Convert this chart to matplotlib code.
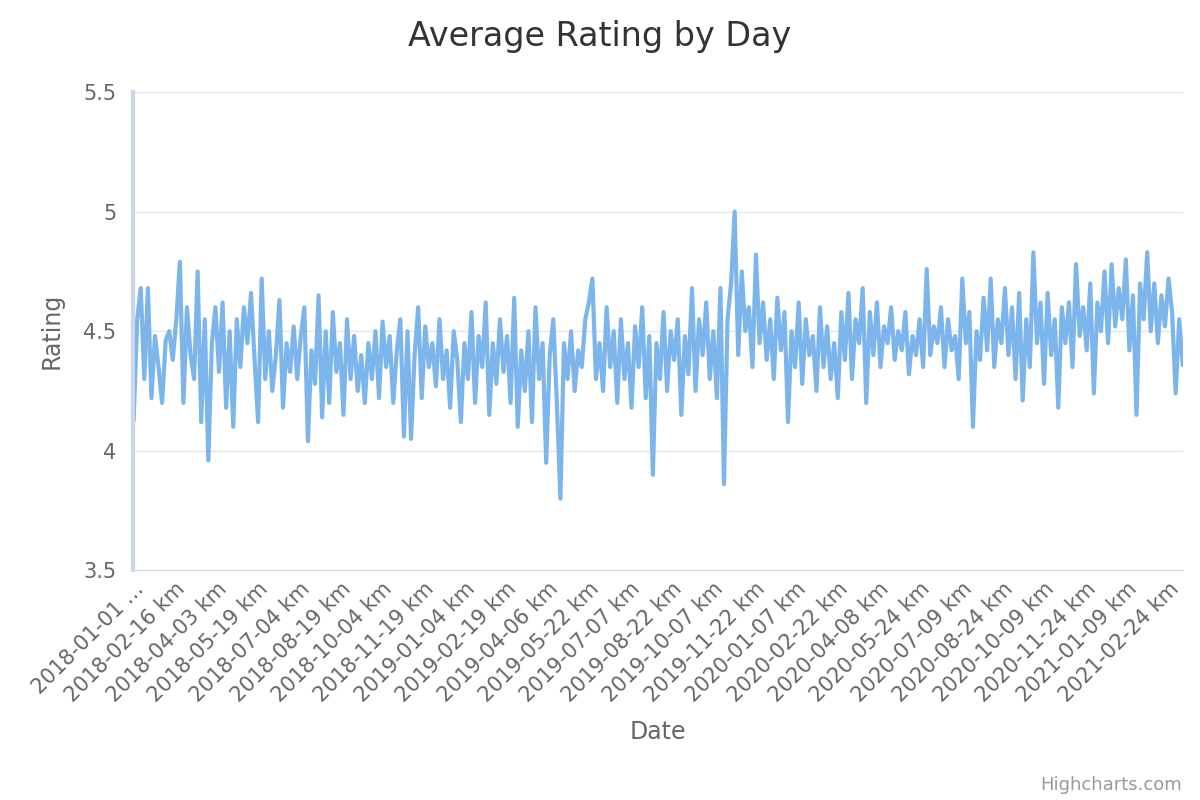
import numpy as np
import pandas as pd
import matplotlib.pyplot as plt

ratings = [
    4.13, 4.55, 4.68, 4.30, 4.68, 4.22, 4.48, 4.35, 4.20, 4.46, 4.50, 4.38, 4.55,
    4.79, 4.20, 4.60, 4.40, 4.30, 4.75, 4.12, 4.55, 3.96, 4.45, 4.60, 4.33, 4.62,
    4.18, 4.50, 4.10, 4.55, 4.35, 4.60, 4.45, 4.66, 4.38, 4.12, 4.72, 4.30, 4.50,
    4.25, 4.40, 4.63, 4.18, 4.45, 4.33, 4.52, 4.30, 4.48, 4.60, 4.04, 4.42, 4.28,
    4.65, 4.14, 4.50, 4.20, 4.58, 4.33, 4.45, 4.15, 4.55, 4.30, 4.48, 4.25, 4.40,
    4.20, 4.45, 4.30, 4.50, 4.22, 4.54, 4.35, 4.48, 4.20, 4.42, 4.55, 4.06, 4.50,
    4.05, 4.40, 4.60, 4.22, 4.52, 4.35, 4.45, 4.27, 4.55, 4.30, 4.42, 4.18, 4.50,
    4.38, 4.12, 4.45, 4.30, 4.58, 4.20, 4.48, 4.35, 4.62, 4.15, 4.45, 4.28, 4.55,
    4.33, 4.48, 4.20, 4.64, 4.10, 4.42, 4.25, 4.50, 4.12, 4.60, 4.30, 4.45, 3.95,
    4.40, 4.55, 4.20, 3.80, 4.45, 4.30, 4.50, 4.25, 4.42, 4.35, 4.55, 4.62, 4.72,
    4.30, 4.45, 4.25, 4.60, 4.35, 4.50, 4.20, 4.55, 4.30, 4.45, 4.18, 4.52, 4.35,
    4.60, 4.22, 4.48, 3.90, 4.45, 4.30, 4.58, 4.25, 4.50, 4.38, 4.55, 4.15, 4.48,
    4.32, 4.68, 4.25, 4.55, 4.40, 4.62, 4.30, 4.50, 4.22, 4.68, 3.86, 4.55, 4.70,
    5.00, 4.40, 4.75, 4.50, 4.60, 4.35, 4.82, 4.45, 4.62, 4.38, 4.55, 4.30, 4.64,
    4.42, 4.58, 4.12, 4.50, 4.35, 4.62, 4.28, 4.55, 4.40, 4.48, 4.25, 4.60, 4.35,
    4.52, 4.30, 4.45, 4.22, 4.58, 4.38, 4.66, 4.30, 4.55, 4.45, 4.68, 4.20, 4.58,
    4.40, 4.62, 4.35, 4.52, 4.45, 4.60, 4.38, 4.50, 4.42, 4.58, 4.32, 4.48, 4.40,
    4.55, 4.35, 4.76, 4.40, 4.52, 4.45, 4.60, 4.35, 4.55, 4.42, 4.48, 4.30, 4.72,
    4.45, 4.58, 4.10, 4.50, 4.38, 4.64, 4.42, 4.72, 4.35, 4.55, 4.45, 4.68, 4.40,
    4.60, 4.30, 4.66, 4.21, 4.55, 4.35, 4.83, 4.45, 4.62, 4.28, 4.66, 4.40, 4.55,
    4.18, 4.60, 4.45, 4.62, 4.35, 4.78, 4.48, 4.60, 4.42, 4.70, 4.24, 4.62, 4.50,
    4.75, 4.45, 4.78, 4.52, 4.68, 4.55, 4.80, 4.42, 4.65, 4.15, 4.70, 4.55, 4.83,
    4.50, 4.70, 4.45, 4.65, 4.52, 4.72, 4.58, 4.24, 4.55, 4.36,
]
step_days = 4
n_days = 1167
tick_every = 46

dates = pd.date_range("2018-01-01", periods=n_days, freq="D")
x = np.linspace(0, n_days - 1, len(ratings))

tick_pos = np.arange(0, n_days, tick_every)
tick_labels = [d.strftime("%Y-%m-%d") + " km" for d in dates[tick_pos]]
tick_labels[0] = "2018-01-01 …"

fig, ax = plt.subplots(figsize=(12, 8), dpi=100)
fig.subplots_adjust(left=0.111, right=0.986, top=0.885, bottom=0.287)

ax.plot(x, ratings, color="#7cb5ec", lw=3)

ax.set_xlim(-0.5, n_days - 0.5)
ax.set_ylim(3.5, 5.5)
ax.set_yticks([3.5, 4, 4.5, 5, 5.5])
ax.set_yticklabels(["3.5", "4", "4.5", "5", "5.5"], fontsize=15, color="#666666")
ax.set_xticks(tick_pos)
ax.set_xticklabels(tick_labels, rotation=45, ha="right", rotation_mode="anchor",
                   fontsize=15, color="#666666")
ax.tick_params(axis="y", length=0, pad=12)
ax.tick_params(axis="x", length=0, pad=6)
ax.grid(axis="y", color="#e6e6e6", lw=1)
ax.set_axisbelow(True)
for s in ["top", "right"]:
    ax.spines[s].set_visible(False)
ax.spines["left"].set_color("#ccd6eb")
ax.spines["left"].set_linewidth(3)
ax.spines["bottom"].set_color("#ccd6eb")

ax.set_ylabel("Rating", fontsize=17, color="#666666", labelpad=14)
ax.set_xlabel("Date", fontsize=17, color="#666666", labelpad=10)
fig.suptitle("Average Rating by Day", fontsize=24, color="#333333", y=0.975)
fig.text(0.985, 0.012, "Highcharts.com", ha="right", fontsize=13, color="#999999")

fig.savefig("out.png")
